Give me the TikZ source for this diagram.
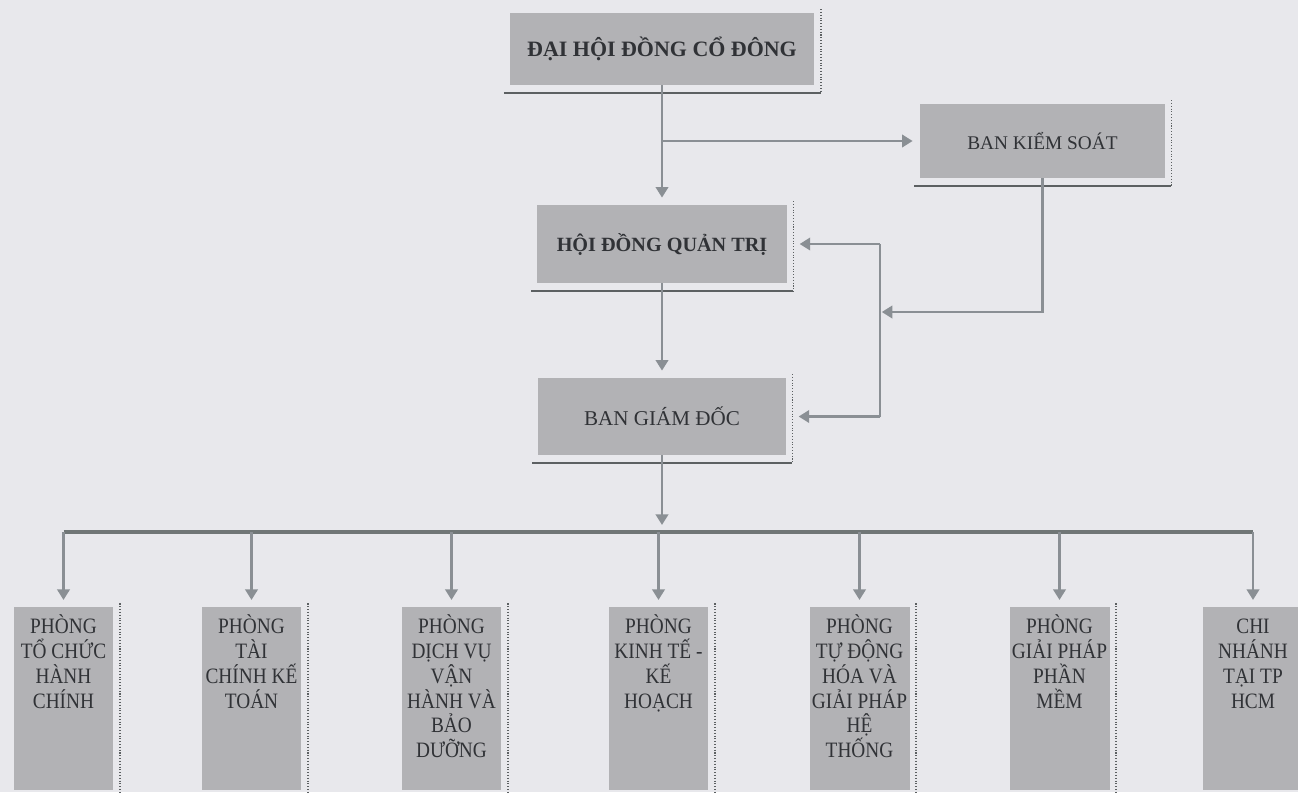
\documentclass[tikz,border=0pt]{standalone}
\usepackage{fontspec}
\setmainfont{Liberation Serif}
\newfontfamily\narrowserif[FakeStretch=0.88]{Liberation Serif}
\usepackage{tikz}
\usetikzlibrary{arrows.meta,calc,positioning}

\definecolor{papier}{RGB}{232,232,236}
\definecolor{boxgray}{RGB}{178,178,181}
\definecolor{ink}{RGB}{48,50,54}
\definecolor{linegray}{RGB}{138,143,148}
\definecolor{busgray}{RGB}{112,118,118}
\definecolor{shadowgray}{RGB}{92,96,98}

% boite des services du bas (texte en haut)
\newcommand{\deptbox}[1]{\parbox[t][3.66cm][t]{2cm}{\centering\rule{0pt}{14.7pt}#1}}

\begin{document}
\begin{tikzpicture}[
		x=0.02cm, y=-0.02cm,
		unit/.style={rectangle, fill=boxgray, text=ink, inner sep=0pt,
			append after command={
				([xshift=-3pt,yshift=-4.5pt]\tikzlastnode.south west) edge[shadowline] ([xshift=3.5pt,yshift=-4.5pt]\tikzlastnode.south east)
				([xshift=3.5pt,yshift=2pt]\tikzlastnode.north east) edge[sideline] ([xshift=3.5pt,yshift=-4.5pt]\tikzlastnode.south east)
			}},
		dept/.style={unit, anchor=north, font=\narrowserif\fontsize{12.5}{14.2}\selectfont},
		shadowline/.style={draw=shadowgray, line width=1.4pt},
		sideline/.style={draw=shadowgray, line width=0.6pt, densely dotted},
		conn/.style={draw=linegray, line width=1.6pt},
		link/.style={conn, -{Triangle[width=7pt,length=6pt]}, shorten >=4pt}, % fleches
		busline/.style={draw=busgray, line width=1.8pt}
		]
		
		% Le fond
		\fill[papier] (0,0) rectangle (1298,792);
		\useasboundingbox (0,0) rectangle (1298,792);
		
		% Les organes de direction
		\node[unit, minimum width=6.1cm, minimum height=1.44cm, font=\bfseries\fontsize{12.5}{15}\selectfont] (dhd) at (662,49) {ĐẠI HỘI ĐỒNG CỔ ĐÔNG};
		\node[unit, minimum width=4.9cm, minimum height=1.48cm, font=\fontsize{11}{13}\selectfont] (bks) at (1042.5,141) {BAN KIỂM SOÁT};
		\node[unit, minimum width=5cm, minimum height=1.56cm, font=\bfseries\fontsize{11.5}{14}\selectfont] (hdqt) at (662,244) {HỘI ĐỒNG QUẢN TRỊ};
		\node[unit, minimum width=4.96cm, minimum height=1.54cm, font=\fontsize{12}{14}\selectfont] (bgd) at (662,416.5) {BAN GIÁM ĐỐC};
		
		% Les services
		\node[dept] (p1) at (63.5,607) {\deptbox{PHÒNG\\TỔ CHỨC\\HÀNH\\CHÍNH}};
		\node[dept] (p2) at (251.5,607) {\deptbox{PHÒNG\\TÀI\\CHÍNH KẾ\\TOÁN}};
		\node[dept] (p3) at (451.5,607) {\deptbox{PHÒNG\\DỊCH VỤ\\VẬN\\HÀNH VÀ\\BẢO\\DƯỠNG}};
		\node[dept] (p4) at (658.5,607) {\deptbox{PHÒNG\\KINH TẾ -\\KẾ\\HOẠCH}};
		\node[dept] (p5) at (859.5,607) {\deptbox{PHÒNG\\TỰ ĐỘNG\\HÓA VÀ\\GIẢI PHÁP\\HỆ\\THỐNG}};
		\node[dept] (p6) at (1059.5,607) {\deptbox{PHÒNG\\GIẢI PHÁP\\PHẦN\\MỀM}};
		\node[dept] (p7) at (1253,607) {\deptbox{CHI\\NHÁNH\\TẠI TP\\HCM}};
		
		% Points de raccord
		\coordinate (relais) at (880,312);
		\coordinate (nbus) at (662,532);
		
		% Les liaisons
		\draw[link] (dhd.south) -- (hdqt.north);
		\draw[link] (dhd.south |- bks.west) -- (bks.west);
		\draw[link, shorten >=1pt] (bks.south) |- (relais);
		\draw[conn] (relais |- hdqt.east) -- (relais |- bgd.east);
		\draw[link, shorten >=7pt] (relais |- hdqt.east) -- (hdqt.east);
		\draw[link, shorten >=7pt] (relais |- bgd.east) -- (bgd.east);
		\draw[link] (hdqt.south) -- (bgd.north);
		\draw[link] (bgd.south) -- (nbus);
		\draw[busline] (p1.north |- nbus) -- (p7.north |- nbus);
		\foreach \i in {1,...,7}
			\draw[link] (p\i.north |- nbus) -- (p\i.north);
	\end{tikzpicture}
\end{document}
